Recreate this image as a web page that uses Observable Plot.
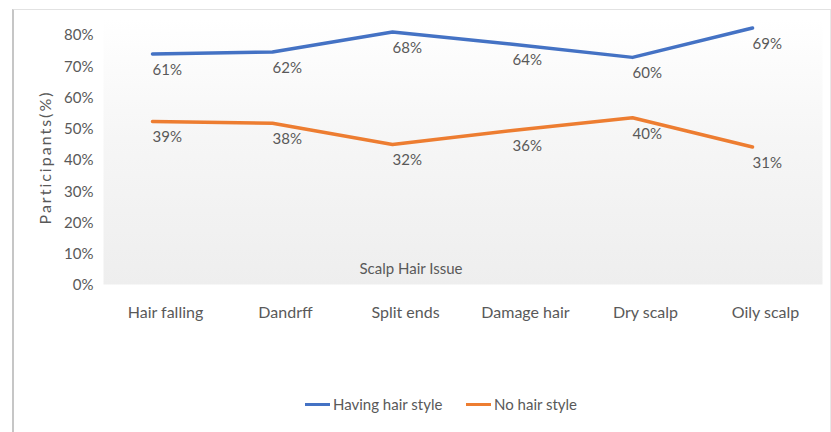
<!DOCTYPE html>
<html>
<head>
<meta charset="utf-8">
<script src="https://cdn.jsdelivr.net/npm/d3@7"></script>
<script src="https://cdn.jsdelivr.net/npm/@observablehq/plot@0.6"></script>
<style>
  html, body { margin: 0; padding: 0; background: #fff; }
  #wrap { position: relative; width: 831px; height: 432px; overflow: hidden; font-family: Lato, "Open Sans", sans-serif; }
  #border { position: absolute; left: 12px; top: 9px; width: 816px; height: 430px;
            border-left: 2px solid #c6c6c6; border-top: 1px solid #e2e2e2; border-right: 1px solid #e8e8e8; }
  #chart { position: absolute; left: 0; top: 0; }
  #legend { position: absolute; top: 395px; left: 0; width: 831px; height: 20px; }
  .lg { position: absolute; top: 0; display: flex; align-items: center; font-size: 15px; color: #595959; white-space: nowrap; }
  .sw { display: inline-block; width: 25px; height: 3px; margin-right: 3px; }
  .ytitle text { letter-spacing: 2px; }
</style>
</head>
<body>
<div id="wrap">
  <div id="border"></div>
  <div id="chart"></div>
  <div id="legend"></div>
</div>
<script>
const categories = ["Hair falling", "Dandrff", "Split ends", "Damage hair", "Dry scalp", "Oily scalp"];
const seriesNames = ["Having hair style", "No hair style"];
const seriesColors = ["#4472C4", "#ED7D31"];
// line heights as drawn in the picture (percent)
const havingPlotted = [74.1, 74.7, 81.1, 77.2, 73.0, 82.4];
const noPlotted = [52.5, 51.9, 45.1, 49.6, 53.7, 44.3];
// data label values shown in the picture (percent)
const havingLabels = [61, 62, 68, 64, 60, 69];
const noLabels = [39, 38, 32, 36, 40, 31];
const yTicks = [0, 10, 20, 30, 40, 50, 60, 70, 80];
const xTitle = "Scalp Hair Issue";
const yTitle = "Participants(%)";

const having = categories.map((c, i) => ({cat: c, v: havingPlotted[i], lab: havingLabels[i] + "%"}));
const noStyle = categories.map((c, i) => ({cat: c, v: noPlotted[i], lab: noLabels[i] + "%"}));

const txt = "#595959";
const chart = Plot.plot({
  width: 831,
  height: 432,
  marginLeft: 103,
  marginRight: 9,
  marginTop: 18,
  marginBottom: 148,
  style: {fontFamily: "Lato, 'Open Sans', sans-serif", fontSize: "15px", color: txt, background: "transparent"},
  x: {type: "point", domain: categories, range: [150, 753], padding: 0},
  y: {domain: [0, 80], range: [285, 35]},
  marks: [
    Plot.frame({fill: "url(#bgGrad)", stroke: "none"}),
    Plot.axisY({ticks: yTicks, tickSize: 0, tickPadding: 10, tickFormat: d => d + "%", label: null, fill: txt, fontSize: 15}),
    Plot.axisX({tickSize: 0, tickPadding: 22, dx: 13, label: null, fill: txt, fontSize: 16}),
    Plot.text([yTitle], {frameAnchor: "left", textAnchor: "middle", rotate: -90, dx: -58, dy: 6, fill: txt, fontSize: 16, className: "ytitle"}),
    Plot.text([xTitle], {frameAnchor: "bottom", dx: -52, dy: -15, fill: txt, fontSize: 15, lineAnchor: "middle"}),
    Plot.line(having, {x: "cat", y: "v", stroke: seriesColors[0], strokeWidth: 3.5, strokeLinejoin: "round"}),
    Plot.line(noStyle, {x: "cat", y: "v", stroke: seriesColors[1], strokeWidth: 3.5, strokeLinejoin: "round"}),
    Plot.text(having, {x: "cat", y: "v", text: "lab", textAnchor: "start", dy: 16, fill: txt, fontSize: 15}),
    Plot.text(noStyle, {x: "cat", y: "v", text: "lab", textAnchor: "start", dy: 16, fill: txt, fontSize: 15})
  ]
});

const svg = d3.select(chart);
const defs = svg.insert("defs", ":first-child");
const g = defs.append("linearGradient").attr("id", "bgGrad").attr("x1", 0).attr("y1", 0).attr("x2", 0).attr("y2", 1);
g.append("stop").attr("offset", "0%").attr("stop-color", "#ffffff");
g.append("stop").attr("offset", "45%").attr("stop-color", "#f6f6f6");
g.append("stop").attr("offset", "100%").attr("stop-color", "#eeeeee");
document.getElementById("chart").appendChild(chart);

const legend = document.getElementById("legend");
const legendX = [305, 466];
seriesNames.forEach((name, i) => {
  const item = document.createElement("div");
  item.className = "lg";
  item.style.left = legendX[i] + "px";
  const sw = document.createElement("span");
  sw.className = "sw";
  sw.style.background = seriesColors[i];
  item.appendChild(sw);
  item.appendChild(document.createTextNode(name));
  legend.appendChild(item);
});
</script>
</body>
</html>
